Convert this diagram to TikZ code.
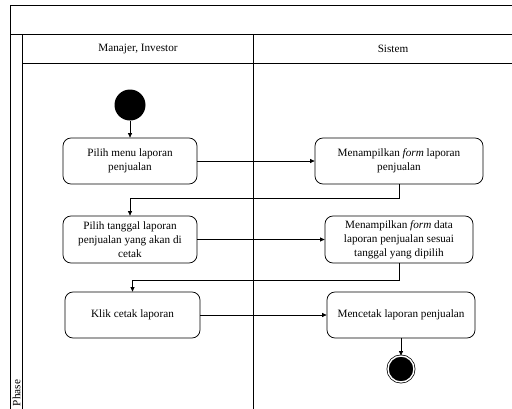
\documentclass[tikz,border=0pt]{standalone}
\usepackage{fontspec}
\setmainfont{Liberation Serif}
\usetikzlibrary{arrows.meta}

\begin{document}
\begin{tikzpicture}[
  x=1pt, y=-1pt,
  line width=0.75pt,
  font=\fontsize{11.2}{13.9}\selectfont,
  activity/.style={draw, rounded corners=8pt, align=center, minimum height=46pt, inner sep=2pt},
  startdot/.style={circle, fill=black, minimum size=31pt, inner sep=0pt},
  enddot/.style={circle, draw, fill=black, double, double distance=1.4pt, minimum size=26pt, inner sep=0pt},
  arrow/.style={-{Triangle[length=4.5pt,width=4pt]}}
]
\useasboundingbox (0,0) rectangle (512,408);
\clip (0,0) rectangle (512,408);

% swimlane frame
\draw (10,5) rectangle (540,420);
\draw (10,34) -- (540,34);
\draw (22.7,34) -- (22.7,420);
\draw (22.7,63) -- (540,63);
\draw (253,34) -- (253,420);
\node (lane1) at (138,48.5) {Manajer, Investor};
\node (lane2) at (393,48.5) {Sistem};
\node[rotate=90] (phase) at (16.5,393) {Phase};

\node[startdot] (start) at (130,105) {};
\node[activity, minimum width=134pt] (pilihmenu) at (130,161) {Pilih menu laporan\\penjualan};
\node[activity, minimum width=168pt] (formlap) at (399,161) {Menampilkan \emph{form} laporan\\penjualan};
\node[activity, minimum width=134pt, minimum height=47pt] (pilihtgl) at (130,239.5) {Pilih tanggal laporan\\penjualan yang akan di\\cetak};
\node[activity, minimum width=148pt, minimum height=47pt] (formdata) at (399,239.5) {Menampilkan \emph{form} data\\laporan penjualan sesuai\\tanggal yang dipilih};
\node[activity, minimum width=135pt] (klik) at (132.5,315) {Klik cetak laporan};
\node[activity, minimum width=148pt] (cetak) at (401,315) {Mencetak laporan penjualan};
\node[enddot] (end) at (401,369) {};

\draw[arrow] (start) -- (pilihmenu);
\draw[arrow] (pilihmenu) -- (formlap);
\draw[arrow] (formlap.south) -- ++(0,14) -| (pilihtgl.north);
\draw[arrow] (pilihtgl) -- (formdata);
\draw[arrow] (formdata.south) -- ++(0,17) -| (klik.north);
\draw[arrow] (klik) -- (cetak);
\draw[arrow] (cetak) -- (end);
\end{tikzpicture}
\end{document}
